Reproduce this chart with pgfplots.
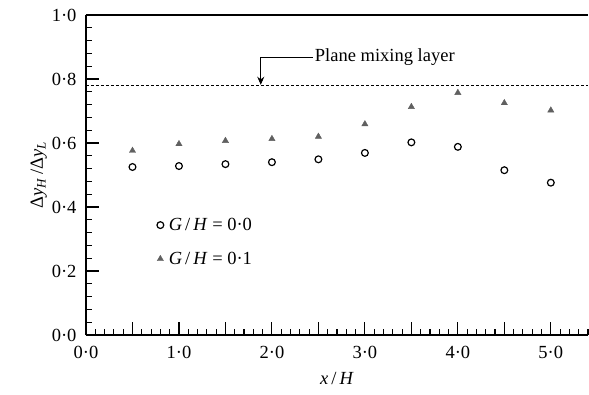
\documentclass[border=0pt]{standalone}
\usepackage{pgfplots}
\pgfplotsset{compat=1.18}
\usepackage{fontspec}
\setmainfont{Liberation Serif}
\usetikzlibrary{arrows.meta}

\definecolor{trigrey}{HTML}{606060}

\pgfplotstableread{
x    gh00   gh01
0.5  0.525  0.576
1.0  0.528  0.597
1.5  0.534  0.607
2.0  0.540  0.613
2.5  0.549  0.620
3.0  0.569  0.659
3.5  0.602  0.713
4.0  0.588  0.757
4.5  0.515  0.725
5.0  0.476  0.702
}\widthdata

\newcommand{\bigfont}{\fontsize{18.5}{18.5}\selectfont}

\begin{document}
\begin{tikzpicture}
\begin{axis}[
  name=ax,
  scale only axis,
  width=502pt, height=320pt,
  xmin=0, xmax=5.4, ymin=0, ymax=1.0,
  axis x line*=bottom, axis y line*=left,
  axis line style={line width=1.4pt},
  tick align=inside,
  major tick length=13pt, minor tick length=6pt,
  every tick/.style={black, line width=1.1pt},
  xtick={0,0.5,...,5.0},
  xticklabels={0·0,,1·0,,2·0,,3·0,,4·0,,5·0},
  minor xtick={0.1,0.2,0.3,0.4,0.6,0.7,0.8,0.9,1.1,1.2,1.3,1.4,1.6,1.7,1.8,1.9,2.1,2.2,2.3,2.4,2.6,2.7,2.8,2.9,3.1,3.2,3.3,3.4,3.6,3.7,3.8,3.9,4.1,4.2,4.3,4.4,4.6,4.7,4.8,4.9,5.1,5.2,5.3,5.4},
  ytick={0,0.2,...,1.0},
  yticklabels={0·0,0·2,0·4,0·6,0·8,1·0},
  minor y tick num=4,
  ticklabel style={font=\bigfont},
  xticklabel style={yshift=-8pt},
  yticklabel style={xshift=-6pt},
  xlabel={\textit{x}\,/\,\textit{H}},
  ylabel={Δ\textit{y}\textsubscript{\textit{H}}\,/Δ\textit{y}\textsubscript{\textit{L}}},
  label style={font=\bigfont},
  xlabel style={yshift=-6pt},
  ylabel style={yshift=-2pt},
  legend style={draw=none, fill=none, at={(0.135,0.375)}, anchor=north west,
    font=\bigfont, row sep=18pt,
    nodes={inner sep=1pt}},
  legend cell align=left,
  clip=false,
]
% plane mixing layer reference level
\draw[dash pattern=on 3pt off 2pt, line width=0.8pt]
  (axis cs:0,0.78) -- (axis cs:5.4,0.78);
\draw[line width=0.9pt, -{Stealth[length=8pt,width=7pt]}]
  (axis cs:2.44,0.866) -- (axis cs:1.88,0.866) -- (axis cs:1.88,0.782);
\node[anchor=west, font=\bigfont, inner sep=1pt]
  at (axis cs:2.45,0.870) {Plane mixing layer};
% upper frame line
\draw[line width=1.4pt] (rel axis cs:0,1) -- (rel axis cs:1,1);

\addplot[only marks, mark=o, mark size=3.4pt, mark options={line width=1.2pt, black}]
  table[x=x, y=gh00] {\widthdata};
\addlegendentry{\hspace{4pt}\textit{G}\,/\,\textit{H} = 0·0}
\addplot[only marks, mark=triangle*, mark size=3.6pt,
  mark options={fill=trigrey, draw=trigrey, line width=0.4pt}]
  table[x=x, y=gh01] {\widthdata};
\addlegendentry{\hspace{4pt}\textit{G}\,/\,\textit{H} = 0·1}
\end{axis}
\pgfresetboundingbox
\path ([shift={(-86pt,-59pt)}]ax.south west) rectangle ([shift={(1pt,15pt)}]ax.north east);
\end{tikzpicture}
\end{document}
